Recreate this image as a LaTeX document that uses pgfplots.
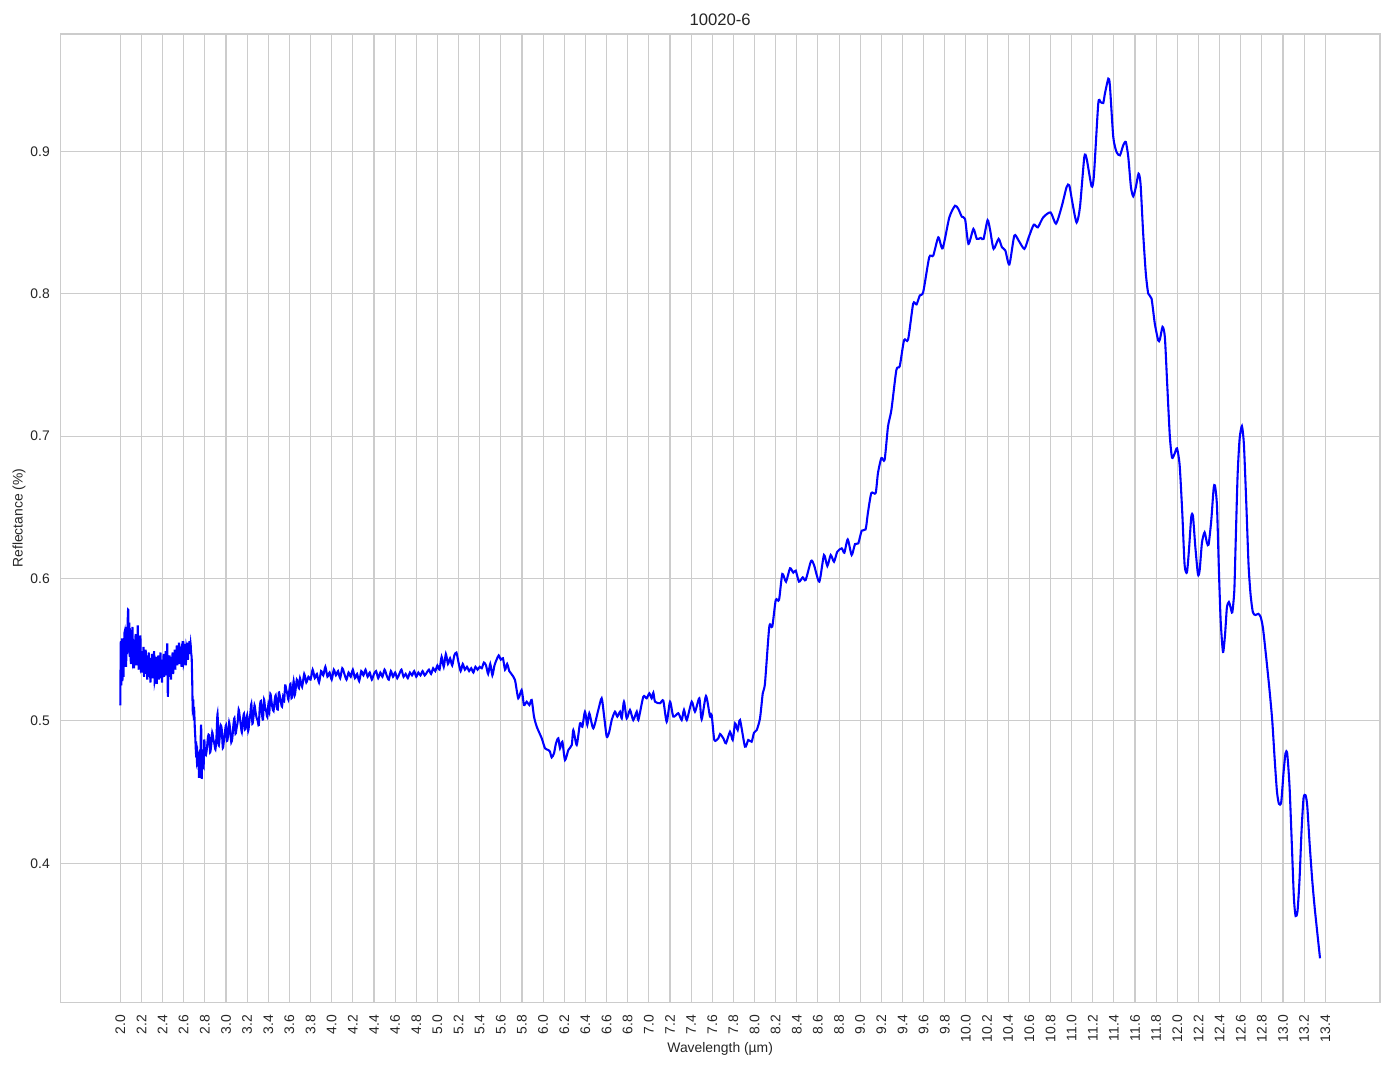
\documentclass[border=0pt]{standalone}
\usepackage{fontspec}
\setmainfont{Liberation Sans}
\usepackage{pgfplots}
\pgfplotsset{compat=1.18}
\usetikzlibrary{backgrounds}
\definecolor{gridgray}{HTML}{CCCCCC}
\definecolor{txt}{HTML}{262626}
\begin{document}
\begin{tikzpicture}
\begin{axis}[name=ax, scale only axis, width=950.2bp, height=697.2bp,
 xmin=1.4325, xmax=13.9175, ymin=0.3024, ymax=0.9824,
 xtick={2.0,2.2,2.4,2.6,2.8,3.0,3.2,3.4,3.6,3.8,4.0,4.2,4.4,4.6,4.8,5.0,5.2,5.4,5.6,5.8,6.0,6.2,6.4,6.6,6.8,7.0,7.2,7.4,7.6,7.8,8.0,8.2,8.4,8.6,8.8,9.0,9.2,9.4,9.6,9.8,10.0,10.2,10.4,10.6,10.8,11.0,11.2,11.4,11.6,11.8,12.0,12.2,12.4,12.6,12.8,13.0,13.2,13.4},
 xticklabels={2.0,2.2,2.4,2.6,2.8,3.0,3.2,3.4,3.6,3.8,4.0,4.2,4.4,4.6,4.8,5.0,5.2,5.4,5.6,5.8,6.0,6.2,6.4,6.6,6.8,7.0,7.2,7.4,7.6,7.8,8.0,8.2,8.4,8.6,8.8,9.0,9.2,9.4,9.6,9.8,10.0,10.2,10.4,10.6,10.8,11.0,11.2,11.4,11.6,11.8,12.0,12.2,12.4,12.6,12.8,13.0,13.2,13.4},
 ytick={0.4,0.5,0.6,0.7,0.8,0.9}, yticklabels={0.4,0.5,0.6,0.7,0.8,0.9},
 /pgf/number format/assume math mode=true,
 grid=major, major grid style={draw=gridgray, line width=0.8bp},
 axis line style={draw=gridgray, line width=1bp},
 major tick length=0pt, tick style={draw=none},
 xticklabel style={rotate=90, anchor=east, inner sep=0pt, xshift=-1.2bp, font=\fontsize{10bp}{12bp}\selectfont, text=txt},
 yticklabel style={anchor=east, inner sep=0pt, font=\fontsize{10bp}{12bp}\selectfont, text=txt},
 xticklabel shift=7.9bp, yticklabel shift=7.4bp,
 every axis title shift=0pt,
 title={10020-6},
 title style={at={(axis description cs:0.5,1.01446)}, anchor=center, inner sep=0pt, font=\fontsize{12bp}{14bp}\selectfont, text=txt},
 xlabel={Wavelength (µm)},
 xlabel style={at={(axis description cs:0.5,-0.0485)}, anchor=center, inner sep=0pt, font=\fontsize{10bp}{12bp}\selectfont, text=txt},
 ylabel={Reflectance (\%)},
 ylabel style={at={(axis description cs:-0.0313,0.5)}, anchor=center, rotate=0, inner sep=0pt, font=\fontsize{10bp}{12bp}\selectfont, text=txt},
]
\addplot[color=blue, line width=1.5bp, smooth, tension=0.4] coordinates {
(2.000,0.511)(2.005,0.556)(2.010,0.525)(2.015,0.558)(2.020,0.528)(2.025,0.553)(2.030,0.531)(2.035,0.549)(2.040,0.562)(2.045,0.541)
(2.050,0.556)(2.055,0.538)(2.060,0.566)(2.065,0.547)(2.070,0.570)(2.075,0.578)(2.080,0.552)(2.085,0.569)(2.090,0.545)(2.095,0.563)
(2.100,0.540)(2.105,0.558)(2.110,0.548)(2.115,0.566)(2.120,0.543)(2.125,0.555)(2.130,0.537)(2.135,0.552)(2.140,0.544)(2.145,0.561)
(2.150,0.539)(2.155,0.555)(2.160,0.541)(2.165,0.567)(2.170,0.546)(2.175,0.536)(2.180,0.553)(2.185,0.540)(2.190,0.560)(2.195,0.538)
(2.200,0.549)(2.205,0.534)(2.210,0.548)(2.215,0.537)(2.220,0.552)(2.225,0.531)(2.230,0.545)(2.235,0.538)(2.240,0.550)(2.245,0.533)
(2.250,0.546)(2.255,0.529)(2.260,0.543)(2.265,0.536)(2.270,0.548)(2.275,0.531)(2.280,0.544)(2.285,0.527)(2.290,0.541)(2.295,0.534)
(2.300,0.547)(2.305,0.530)(2.310,0.542)(2.315,0.535)(2.320,0.549)(2.325,0.528)(2.330,0.540)(2.335,0.533)(2.340,0.545)(2.345,0.526)
(2.350,0.539)(2.355,0.532)(2.360,0.546)(2.365,0.529)(2.370,0.541)(2.375,0.535)(2.380,0.548)(2.385,0.530)(2.390,0.543)(2.395,0.527)
(2.400,0.540)(2.405,0.534)(2.410,0.547)(2.415,0.531)(2.420,0.544)(2.425,0.536)(2.430,0.549)(2.435,0.532)(2.440,0.542)(2.445,0.554)
(2.450,0.517)(2.455,0.540)(2.460,0.531)(2.465,0.546)(2.470,0.534)(2.475,0.541)(2.480,0.529)(2.485,0.545)(2.490,0.537)(2.495,0.548)
(2.500,0.533)(2.505,0.544)(2.510,0.538)(2.515,0.550)(2.520,0.536)(2.525,0.547)(2.530,0.541)(2.535,0.553)(2.540,0.539)(2.545,0.551)
(2.550,0.543)(2.555,0.555)(2.560,0.540)(2.565,0.552)(2.570,0.544)(2.575,0.549)(2.580,0.538)(2.585,0.553)(2.590,0.545)(2.595,0.556)
(2.600,0.541)(2.605,0.550)(2.610,0.544)(2.615,0.554)(2.620,0.539)(2.625,0.551)(2.630,0.546)(2.635,0.555)(2.640,0.543)(2.645,0.552)
(2.650,0.547)(2.655,0.556)(2.660,0.549)(2.665,0.554)(2.670,0.548)(2.675,0.545)(2.680,0.530)(2.685,0.509)(2.690,0.515)(2.695,0.503)
(2.700,0.506)(2.705,0.495)(2.710,0.488)(2.715,0.479)(2.720,0.482)(2.725,0.472)(2.730,0.476)(2.735,0.468)(2.740,0.473)(2.745,0.460)
(2.750,0.475)(2.755,0.460)(2.760,0.484)(2.765,0.497)(2.770,0.460)(2.775,0.476)(2.780,0.466)(2.785,0.480)(2.790,0.471)(2.795,0.487)
(2.800,0.478)
(2.81,0.476)(2.82,0.481)(2.83,0.489)(2.84,0.490)(2.85,0.478)(2.86,0.483)(2.87,0.492)(2.88,0.487)(2.89,0.484)(2.90,0.480)
(2.91,0.489)(2.92,0.505)(2.93,0.483)(2.94,0.488)(2.95,0.497)(2.96,0.494)(2.97,0.481)(2.98,0.486)(2.99,0.492)(3.00,0.497)
(3.01,0.486)(3.02,0.490)(3.03,0.499)(3.04,0.493)(3.05,0.485)(3.06,0.488)(3.07,0.497)(3.08,0.502)(3.09,0.491)(3.10,0.495)
(3.11,0.499)(3.12,0.508)(3.13,0.503)(3.14,0.497)(3.15,0.492)(3.16,0.500)(3.17,0.505)(3.18,0.494)(3.19,0.498)(3.20,0.504)
(3.21,0.493)(3.22,0.499)(3.23,0.505)(3.24,0.512)(3.25,0.498)(3.26,0.503)(3.27,0.511)(3.28,0.506)(3.29,0.502)(3.30,0.500)
(3.31,0.497)(3.32,0.510)(3.33,0.514)(3.34,0.505)(3.35,0.501)(3.36,0.515)(3.37,0.509)(3.38,0.507)(3.39,0.503)(3.40,0.511)
(3.41,0.506)(3.42,0.519)(3.43,0.514)(3.44,0.509)(3.45,0.507)(3.46,0.514)(3.47,0.518)(3.48,0.510)(3.49,0.508)(3.50,0.520)
(3.51,0.517)(3.52,0.513)(3.53,0.510)(3.54,0.517)(3.55,0.514)(3.56,0.525)(3.57,0.522)(3.58,0.519)(3.59,0.515)(3.60,0.522)
(3.61,0.526)(3.62,0.516)(3.63,0.520)(3.64,0.528)(3.65,0.518)(3.66,0.523)(3.67,0.529)(3.68,0.526)(3.69,0.523)(3.70,0.530)
(3.72,0.524)(3.74,0.533)(3.76,0.527)(3.78,0.531)(3.80,0.529)
(3.82,0.536)(3.84,0.530)(3.86,0.533)(3.88,0.527)(3.90,0.535)(3.92,0.532)(3.94,0.538)(3.96,0.531)(3.98,0.534)(4.00,0.529)
(4.02,0.536)(4.04,0.532)(4.06,0.535)(4.08,0.530)(4.10,0.537)(4.12,0.533)(4.14,0.529)(4.16,0.534)(4.18,0.531)(4.20,0.536)
(4.22,0.530)(4.24,0.533)(4.26,0.528)(4.28,0.535)(4.30,0.532)(4.32,0.536)(4.34,0.531)(4.36,0.534)(4.38,0.529)(4.40,0.533)
(4.42,0.535)(4.44,0.530)(4.46,0.534)(4.48,0.531)(4.50,0.536)(4.52,0.532)(4.54,0.529)(4.56,0.535)(4.58,0.531)(4.60,0.534)
(4.62,0.530)(4.64,0.533)(4.66,0.536)(4.68,0.531)(4.70,0.533)(4.72,0.530)(4.74,0.534)(4.76,0.532)(4.78,0.535)(4.80,0.531)
(4.82,0.534)(4.84,0.532)(4.86,0.535)(4.88,0.532)(4.90,0.534)(4.92,0.536)(4.94,0.533)(4.96,0.537)(4.98,0.535)(5.00,0.539)
(5.02,0.536)(5.04,0.545)(5.06,0.538)(5.08,0.547)(5.10,0.540)(5.12,0.544)(5.14,0.539)(5.16,0.546)(5.18,0.548)(5.20,0.541)
(5.22,0.535)(5.24,0.540)(5.26,0.536)(5.28,0.538)(5.30,0.535)(5.32,0.537)(5.34,0.534)(5.36,0.538)(5.38,0.536)(5.40,0.538)
(5.42,0.537)(5.44,0.541)(5.46,0.539)(5.48,0.533)(5.50,0.540)(5.52,0.532)(5.54,0.539)(5.56,0.543)(5.58,0.546)(5.60,0.543)
(5.62,0.544)(5.64,0.536)(5.66,0.540)(5.68,0.535)(5.70,0.533)
(5.734,0.5287)(5.765,0.5159)(5.797,0.5217)(5.819,0.5112)(5.845,0.5135)(5.870,0.5112)(5.892,0.5147)(5.914,0.5030)
(5.940,0.4959)(5.987,0.4878)(6.018,0.4808)(6.049,0.4796)(6.065,0.4784)(6.081,0.4744)(6.103,0.4772)(6.122,0.4843)
(6.144,0.4878)(6.160,0.4808)(6.182,0.4854)(6.207,0.4725)(6.239,0.4796)(6.271,0.4831)(6.286,0.4936)(6.318,0.4831)
(6.349,0.4983)(6.371,0.4959)(6.396,0.5065)(6.418,0.4971)(6.437,0.5054)(6.475,0.4948)(6.522,0.5077)(6.554,0.5159)
(6.576,0.5041)(6.602,0.4889)(6.626,0.4924)(6.649,0.5006)(6.680,0.5065)(6.702,0.5030)(6.728,0.5065)(6.744,0.5018)
(6.765,0.5135)(6.791,0.5018)(6.822,0.5077)(6.853,0.5006)(6.886,0.5065)(6.901,0.5006)(6.948,0.5170)(6.980,0.5159)
(7.005,0.5194)(7.027,0.5159)(7.043,0.5198)(7.059,0.5135)(7.106,0.5124)(7.137,0.5142)(7.169,0.4994)(7.201,0.5135)
(7.232,0.5030)(7.279,0.5054)(7.311,0.5006)(7.333,0.5077)(7.359,0.5006)(7.406,0.5135)(7.437,0.5065)(7.478,0.5159)
(7.500,0.5011)(7.541,0.5175)(7.579,0.5030)(7.595,0.5041)(7.620,0.4866)(7.658,0.4878)(7.674,0.4908)(7.705,0.4878)
(7.730,0.4843)(7.768,0.4924)(7.794,0.4866)(7.816,0.4983)(7.841,0.4936)(7.863,0.5006)
(7.910,0.4819)(7.941,0.4866)(7.973,0.4854)(7.995,0.4917)(8.021,0.4936)(8.052,0.5018)(8.078,0.5194)(8.099,0.5264)
(8.140,0.5662)(8.168,0.5662)(8.201,0.5849)(8.232,0.5850)(8.263,0.6032)(8.298,0.5978)(8.336,0.6072)(8.367,0.6041)
(8.390,0.6055)(8.421,0.5978)(8.456,0.6008)(8.484,0.5990)(8.535,0.6123)(8.563,0.6095)(8.613,0.5978)(8.657,0.6165)
(8.689,0.6088)(8.721,0.6165)(8.752,0.6118)(8.783,0.6188)(8.825,0.6212)(8.850,0.6181)(8.882,0.6275)(8.919,0.6165)
(8.951,0.6242)(8.982,0.6247)(9.014,0.6336)(9.051,0.6345)
(9.073,0.6462)(9.105,0.6600)(9.146,0.6600)(9.168,0.6741)(9.200,0.6846)(9.231,0.6834)(9.263,0.7068)(9.295,0.7184)
(9.342,0.7464)(9.374,0.7492)(9.415,0.7674)(9.453,0.7678)(9.501,0.7930)(9.533,0.7925)(9.564,0.7988)(9.596,0.8012)
(9.653,0.8256)(9.691,0.8268)(9.739,0.8396)(9.780,0.8319)(9.843,0.8536)(9.897,0.8618)(9.929,0.8594)(9.961,0.8541)
(9.992,0.8524)(10.024,0.8350)(10.071,0.8455)(10.103,0.8385)(10.141,0.8392)(10.167,0.8385)(10.205,0.8517)(10.230,0.8443)
(10.262,0.8315)(10.309,0.8385)(10.341,0.8326)(10.373,0.8303)(10.411,0.8205)(10.458,0.8408)(10.499,0.8373)(10.553,0.8315)
(10.594,0.8396)(10.642,0.8485)(10.680,0.8466)(10.731,0.8536)(10.801,0.8571)
(10.852,0.8492)(10.905,0.8609)(10.953,0.8750)(10.978,0.8761)(11.009,0.8633)(11.047,0.8500)(11.079,0.8609)(11.120,0.8960)
(11.142,0.8949)(11.189,0.8754)(11.211,0.8832)(11.252,0.9334)(11.274,0.9346)(11.299,0.9339)(11.315,0.9405)(11.347,0.9510)
(11.362,0.9463)(11.394,0.9101)(11.425,0.8995)(11.457,0.8972)(11.488,0.9042)(11.513,0.9065)(11.536,0.8960)(11.561,0.8750)
(11.583,0.8684)(11.608,0.8750)(11.633,0.8843)(11.652,0.8773)(11.677,0.8422)(11.702,0.8142)(11.725,0.8001)(11.756,0.7966)
(11.787,0.7790)(11.819,0.7673)(11.835,0.7678)(11.860,0.7767)(11.882,0.7697)(11.904,0.7369)(11.929,0.7000)(11.950,0.6849)
(11.975,0.6878)(11.997,0.6914)
(12.022,0.6797)(12.047,0.6459)(12.069,0.6095)(12.091,0.6043)(12.110,0.6199)(12.132,0.6433)(12.148,0.6438)(12.170,0.6225)
(12.195,0.6030)(12.211,0.6056)(12.233,0.6251)(12.258,0.6324)(12.280,0.6251)(12.296,0.6238)(12.321,0.6407)(12.343,0.6628)
(12.356,0.6654)(12.375,0.6511)(12.394,0.6043)(12.410,0.5705)(12.432,0.5484)(12.451,0.5601)(12.469,0.5796)(12.488,0.5835)
(12.504,0.5796)(12.520,0.5762)(12.539,0.5913)(12.551,0.6225)(12.570,0.6719)(12.589,0.6979)(12.611,0.7070)(12.630,0.6940)
(12.652,0.6537)(12.674,0.6095)(12.693,0.5887)(12.715,0.5762)(12.740,0.5744)(12.766,0.5752)(12.788,0.5731)(12.810,0.5653)
(12.841,0.5445)(12.873,0.5211)(12.898,0.5003)(12.920,0.4743)(12.942,0.4509)(12.961,0.4418)(12.983,0.4431)(13.005,0.4639)
(13.024,0.4774)(13.040,0.4769)(13.062,0.4535)(13.084,0.4119)(13.103,0.3755)(13.119,0.3630)(13.137,0.3664)(13.156,0.3885)
(13.175,0.4223)(13.194,0.4457)(13.213,0.4478)(13.229,0.4405)(13.251,0.4145)(13.276,0.3885)(13.301,0.3677)(13.350,0.3333)
};
\end{axis}
\begin{scope}[on background layer]
\fill[white] ([shift={(-43.42bp,-48.02bp)}]ax.south west) rectangle ([shift={(10.08bp,24.48bp)}]ax.north east);
\end{scope}
\end{tikzpicture}
\end{document}
